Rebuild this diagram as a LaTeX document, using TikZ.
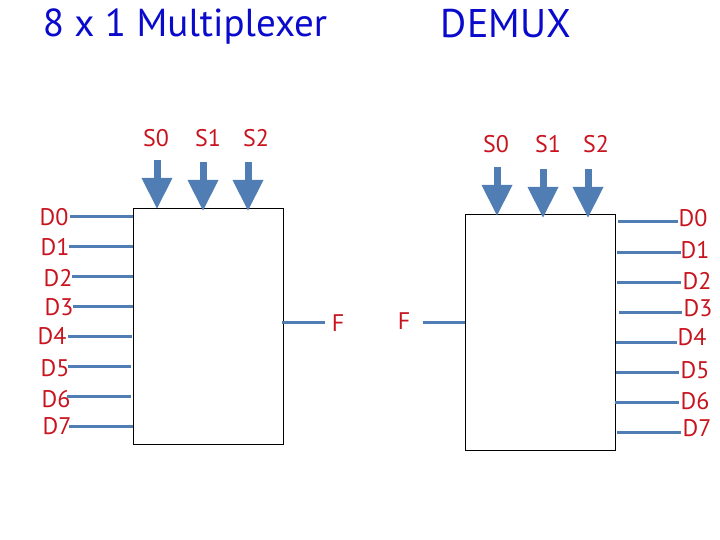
\documentclass[tikz,border=0pt]{standalone}
\usepackage{fontspec}
\setmainfont{PT Sans}
\definecolor{ttl}{RGB}{10,10,205}
\definecolor{lbl}{RGB}{200,20,30}
\definecolor{wire}{RGB}{79,125,180}
\tikzset{x=1pt,y=-1pt,
 lab/.style={text=lbl,font=\fontsize{24}{24}\selectfont,inner sep=0pt,anchor=center},
 ttlt/.style={text=ttl,inner sep=0pt,anchor=base},
 wiree/.style={draw=wire,line width=3pt},
 boxx/.style={draw=black,line width=0.9pt,fill=white,inner sep=0pt}}
\newcommand{\selarrow}[2]{%
 \fill[wire] (#1-3.5,#2-48) rectangle (#1+3.5,#2-30);
 \fill[wire] (#1-15.5,#2-30) -- (#1+15.5,#2-30) -- (#1,#2+0.5) -- cycle;}
\begin{document}
\begin{tikzpicture}
\useasboundingbox (0,0) rectangle (720,540);
\node[ttlt,font=\fontsize{39}{39}\selectfont] (title) at (185,37) {8 x 1 Multiplexer};
\node[ttlt,font=\fontsize{40}{40}\selectfont] (demux) at (506,38) {DEMUX};
% left
\coordinate (b1nw) at (133,208); \coordinate (b1se) at (283,444);
\draw[boxx] (b1nw) rectangle (b1se);
\foreach \n/\x/\y in {S0/156/138,S1/208/138,S2/256/138}{\node[lab] (L\n) at (\x,\y) {\n};}
\selarrow{157}{208}\selarrow{203}{210}\selarrow{248}{210}
\foreach \n/\x/\y/\wy/\ws/\we in {D0/54/217/216.5/70/133,D1/55/247/246/69/133,D2/58/278/276/72/133,D3/59/307/306/73/133,D4/52/336/336/68/132,D5/55/368/366/68/131,D6/56/399/396/67/131,D7/57/426/426/69/133}{
 \node[lab] (L\n) at (\x,\y) {\n};
 \coordinate (Lc\n) at (\we,\wy);
 \coordinate (Le\n) at (\ws,\wy);
 \draw[wiree] (Le\n) -- (Lc\n);}
\coordinate (Lfa) at (282,322.5); \coordinate (Lfb) at (325,322.5);
\draw[wiree] (Lfa) -- (Lfb);
\node[lab] (LF) at (338,323) {F};
% right
\coordinate (b2nw) at (465,214); \coordinate (b2se) at (615,450);
\draw[boxx] (b2nw) rectangle (b2se);
\foreach \n/\x/\y in {S0/496/144,S1/548/144,S2/596/144}{\node[lab] (R\n) at (\x,\y) {\n};}
\selarrow{497}{215}\selarrow{543}{217}\selarrow{588}{217}
\foreach \n/\x/\y/\wy/\ws/\wt in {D0/693/218/222/618/678,D1/695/250/252/617/681,D2/697/281/282/617/681,D3/698/308/312/619/682,D4/692/337/342/616/677,D5/695/370/372/616/679,D6/695/401/402/615/679,D7/697/428/432/617/681}{
 \node[lab] (R\n) at (\x,\y) {\n};
 \coordinate (Rc\n) at (\ws,\wy);
 \coordinate (Re\n) at (\wt,\wy);
 \draw[wiree] (Rc\n) -- (Re\n);}
\coordinate (Rfa) at (423,322.5); \coordinate (Rfb) at (465,322.5);
\draw[wiree] (Rfa) -- (Rfb);
\node[lab] (RF) at (404,321) {F};
\end{tikzpicture}
\end{document}
